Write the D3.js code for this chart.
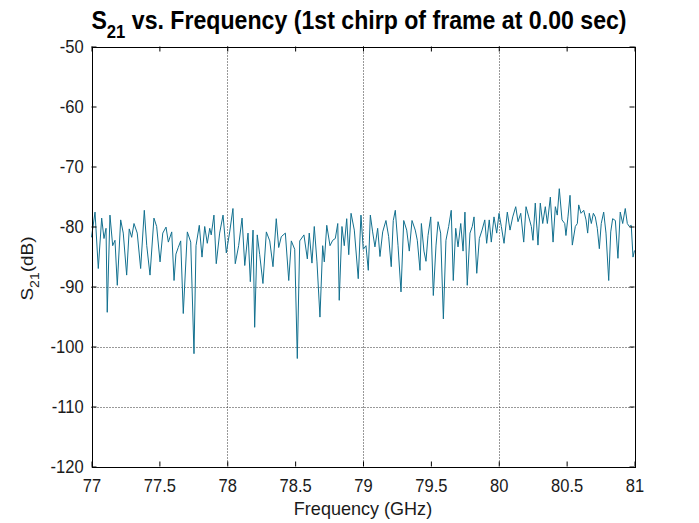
<!DOCTYPE html>
<html>
<head>
<meta charset="utf-8">
<script src="https://cdn.jsdelivr.net/npm/d3@7"></script>
<style>
  body { margin: 0; background: #fff; }
  text { font-family: "Liberation Sans", Arial, sans-serif; }
</style>
</head>
<body>
<div id="canvas"></div>
<script>
var width = 699;
var height = 523;

// S21 trace
var freqGHz = [
  77.000, 77.026, 77.050, 77.075, 77.092, 77.107, 77.116, 77.136, 77.156, 77.173,
  77.190, 77.215, 77.234, 77.259, 77.278, 77.296, 77.313, 77.337, 77.362, 77.389,
  77.407, 77.431, 77.460, 77.480, 77.505, 77.525, 77.549, 77.566, 77.591, 77.608,
  77.622, 77.639, 77.657, 77.676, 77.706, 77.731, 77.755, 77.770, 77.794,
  77.814, 77.834, 77.853, 77.871, 77.882, 77.902, 77.919, 77.944, 77.969, 77.993,
  78.018, 78.042, 78.059, 78.084, 78.109, 78.129, 78.153, 78.170, 78.190, 78.202,
  78.221, 78.239, 78.263, 78.288, 78.313, 78.337, 78.361, 78.379, 78.398, 78.428,
  78.453, 78.472, 78.497, 78.516, 78.534, 78.565, 78.590,
  78.604, 78.624, 78.641, 78.661, 78.683, 78.703, 78.715, 78.733, 78.757, 78.777,
  78.796, 78.814, 78.825, 78.845, 78.862, 78.880, 78.895, 78.912, 78.936, 78.965,
  78.985, 79.002, 79.022, 79.039, 79.054, 79.071, 79.088, 79.108, 79.125, 79.145,
  79.169, 79.189, 79.208, 79.223, 79.238, 79.258, 79.280, 79.300, 79.322, 79.341,
  79.361, 79.385,
  79.400, 79.420, 79.430, 79.449, 79.464, 79.479, 79.499, 79.518, 79.538, 79.553,
  79.572, 79.592, 79.611, 79.631, 79.650, 79.665, 79.683, 79.700, 79.720, 79.737,
  79.751, 79.768, 79.788, 79.805, 79.818, 79.838, 79.857, 79.877, 79.897, 79.911,
  79.930, 79.945, 79.965, 79.985, 80.002, 80.019, 80.039, 80.063, 80.083, 80.103,
  80.125, 80.142, 80.162, 80.184,
  80.201, 80.221, 80.240, 80.252, 80.269, 80.289, 80.306, 80.324, 80.343, 80.358,
  80.380, 80.400, 80.417, 80.431, 80.446, 80.466, 80.486, 80.495, 80.510, 80.525,
  80.542, 80.564, 80.579, 80.589, 80.606, 80.626, 80.643, 80.655, 80.667, 80.682,
  80.697, 80.711, 80.726, 80.741, 80.755, 80.773, 80.790, 80.810, 80.825, 80.839,
  80.859, 80.878, 80.895, 80.913, 80.932, 80.947, 80.962, 80.976, 80.989, 81.000
];
var s21dB = [
  -81.8, -77.6, -87.0, -78.6, -82.0, -80.3, -94.3, -78.1, -83.2, -82.3,
  -89.8, -78.9, -81.1, -88.1, -80.4, -81.8, -79.5, -81.1, -87.0, -77.3,
  -83.2, -88.1, -78.6, -80.0, -85.9, -81.1, -80.1, -82.6, -80.9, -89.0,
  -84.6, -83.5, -82.4, -94.5, -80.9, -82.6, -101.2, -83.2, -79.8,
  -85.1, -80.0, -82.8, -80.3, -81.4, -78.1, -86.2, -81.1, -78.1, -84.4,
  -80.9, -77.0, -86.2, -83.2, -78.6, -86.5, -81.1, -89.2, -80.6, -96.8,
  -81.4, -84.7, -89.5, -80.9, -82.4, -86.7, -78.7, -83.5, -81.7, -81.1,
  -89.0, -82.4, -83.8, -102.0, -82.4, -81.4, -85.4,
  -81.1, -86.1, -80.0, -85.9, -95.1, -83.2, -85.9, -79.8, -83.2, -82.3,
  -82.0, -79.5, -92.3, -80.0, -83.2, -78.7, -84.7, -77.8, -80.6, -88.7,
  -78.1, -83.8, -83.2, -87.3, -78.1, -80.9, -83.4, -80.3, -85.0, -80.9,
  -79.0, -81.7, -86.7, -79.0, -77.3, -83.2, -90.9, -79.0, -80.6, -84.1,
  -79.0, -80.6,
  -82.3, -87.3, -79.5, -84.1, -85.8, -81.5, -78.4, -91.5, -83.1, -79.2,
  -81.1, -95.4, -82.3, -80.0, -77.3, -89.0, -80.3, -83.4, -79.5, -84.1,
  -77.6, -89.8, -81.1, -80.0, -78.4, -87.8, -82.0, -80.6, -78.9, -82.8,
  -78.9, -82.6, -78.4, -81.1, -77.8, -80.0, -82.8, -77.6, -80.6, -78.4,
  -76.7, -79.2, -77.8, -82.6,
  -76.7, -78.4, -80.0, -82.3, -76.1, -83.1, -76.1, -79.5, -76.7, -79.5,
  -75.1, -82.6, -76.7, -78.1, -73.7, -78.9, -79.5, -81.5, -78.4, -74.8,
  -83.1, -80.0, -79.5, -76.4, -77.8, -77.3, -78.9, -81.1, -77.8, -79.5,
  -77.8, -78.4, -80.3, -83.7, -79.5, -77.6, -81.1, -89.0, -80.9, -78.7,
  -79.0, -85.3, -77.6, -79.5, -77.0, -79.5, -80.0, -79.8, -85.1, -84.0
];

var xTicks = [77, 77.5, 78, 78.5, 79, 79.5, 80, 80.5, 81];
var yTicks = [-120, -110, -100, -90, -80, -70, -60, -50];
var xGrid = [78, 79, 80];
var yGrid = [-110, -100, -90];

var plotL = 91.5, plotR = 634.5, plotT = 46.5, plotB = 466.5;
var squash = 0.87; // the reference text is drawn narrow

var svg = d3.select("#canvas").append("svg")
      .attr("width", width)
      .attr("height", height);

var x = d3.scaleLinear().domain([77, 81]).range([plotL, plotR]);
var y = d3.scaleLinear().domain([-120, -50]).range([plotB, plotT]);

// dotted grid
svg.selectAll(".gx").data(xGrid).enter().append("line")
    .attr("x1", d => Math.round(x(d)) + 0.5).attr("x2", d => Math.round(x(d)) + 0.5)
    .attr("y1", plotT).attr("y2", plotB)
    .attr("stroke", "#333").attr("stroke-width", 1)
    .attr("stroke-dasharray", "1,2");
svg.selectAll(".gy").data(yGrid).enter().append("line")
    .attr("y1", d => Math.round(y(d)) + 0.5).attr("y2", d => Math.round(y(d)) + 0.5)
    .attr("x1", plotL).attr("x2", plotR)
    .attr("stroke", "#333").attr("stroke-width", 1)
    .attr("stroke-dasharray", "1,2");

// trace
var line = d3.line()
    .x((d, i) => x(freqGHz[i]))
    .y(d => y(d));

svg.append("path")
    .datum(s21dB)
    .attr("d", line)
    .attr("fill", "none")
    .attr("stroke", "#12708f")
    .attr("stroke-width", 1)
    .attr("stroke-linejoin", "round");

// axes with inward ticks, box on
var plain = d => String(d); // plain hyphen minus like the reference
var xb = svg.append("g").attr("transform", "translate(0," + plotB + ")")
    .call(d3.axisBottom(x).tickValues(xTicks).tickSize(-5).tickPadding(12)
      .tickFormat(plain));
var xt = svg.append("g").attr("transform", "translate(0," + plotT + ")")
    .call(d3.axisTop(x).tickValues(xTicks).tickSize(-5).tickFormat(""));
var yl = svg.append("g").attr("transform", "translate(" + plotL + ",0)")
    .call(d3.axisLeft(y).tickValues(yTicks).tickSize(-5).tickPadding(9)
      .tickFormat(plain));
var yr = svg.append("g").attr("transform", "translate(" + plotR + ",0)")
    .call(d3.axisRight(y).tickValues(yTicks).tickSize(-5).tickFormat(""));

[xb, xt, yl, yr].forEach(function(g) {
  g.select(".domain").attr("stroke", "#000");
  g.selectAll(".tick line").attr("stroke", "#000");
  g.selectAll("text")
    .attr("fill", "#1a1a1a")
    .attr("transform", "scale(" + squash + ",1)")
    .style("font-size", "19px")
    .style("font-family", "'Liberation Sans', Arial, sans-serif");
});
svg.selectAll("path.domain").attr("shape-rendering", "crispEdges");

// title
var title = svg.append("text")
    .attr("transform", "translate(359,29) scale(0.925,1)")
    .attr("text-anchor", "middle")
    .style("font-weight", "bold")
    .style("font-size", "25px")
    .attr("fill", "#000");
title.append("tspan").text("S");
title.append("tspan").attr("dy", 9).style("font-size", "18px").text("21");
title.append("tspan").attr("dy", -9).text(" vs. Frequency (1st chirp of frame at 0.00 sec)");

// x label
svg.append("text")
    .attr("transform", "translate(" + ((plotL + plotR) / 2) + ",515) scale(0.95,1)")
    .attr("text-anchor", "middle")
    .style("font-size", "19px")
    .attr("fill", "#1a1a1a")
    .text("Frequency (GHz)");

// y label
var ylab = svg.append("text")
    .attr("transform", "translate(33," + ((plotT + plotB) / 2 + 12) + ") rotate(-90) scale(1," + squash + ")")
    .attr("text-anchor", "middle")
    .style("font-size", "19px")
    .attr("fill", "#1a1a1a");
ylab.append("tspan").text("S");
ylab.append("tspan").attr("dy", 7).style("font-size", "14px").text("21");
ylab.append("tspan").attr("dy", -7).text("(dB)");
</script>
</body>
</html>
